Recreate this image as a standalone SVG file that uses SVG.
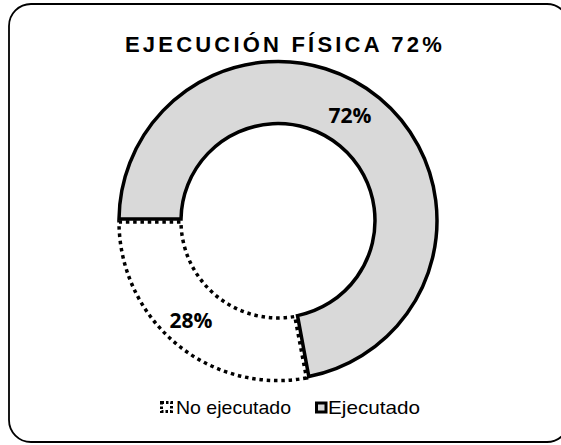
<svg xmlns="http://www.w3.org/2000/svg" width="561" height="445" viewBox="0 0 561 445">
  <style>
    .frame { fill: #ffffff; stroke: #000000; stroke-width: 1.8; }
    .exec { fill: #d9d9d9; stroke: #000000; stroke-width: 3.5; stroke-linejoin: miter; }
    .noexec { fill: #ffffff; stroke: #000000; stroke-width: 3.5; stroke-dasharray: 3.5 3.8; }
    .title { font-family: "Liberation Sans", Arial, sans-serif; font-weight: bold; font-size: 22px; fill: #000000; letter-spacing: 3.2px; }
    .pct { font-family: "Open Sans", "Liberation Sans", sans-serif; font-weight: bold; font-size: 21px; fill: #000000; text-anchor: middle; }
    .legend { font-family: "Liberation Sans", Arial, sans-serif; font-size: 19px; fill: #000000; }
  </style>
  <rect class="frame" x="9" y="4" width="560" height="438" rx="22" ry="22"/>
  <g id="title">
    <text class="title" x="125" y="52">EJECUCIÓN FÍSICA 72%</text>
  </g>
  <g id="segment-no-ejecutado">
    <path class="noexec" d="M 306.5,378 A 159,159 0 0 1 119,222 L 181,222 A 97,97 0 0 0 294.8,316.5 Z"/>
    <text class="pct" x="191" y="328">28%</text>
  </g>
  <g id="segment-ejecutado">
    <path class="exec" d="M 119,219 A 159,159 0 1 1 308.8,376.5 L 297.5,315.6 A 97,97 0 1 0 181,219 Z"/>
    <text class="pct" x="350" y="123">72%</text>
  </g>
  <g id="legend">
    <g id="legend-no-ejecutado">
      <rect x="161.5" y="402.5" width="10" height="9" fill="#ffffff" stroke="#000000" stroke-width="3" stroke-dasharray="2.5 2"/>
      <text class="legend" x="176" y="413.5" textLength="115" lengthAdjust="spacingAndGlyphs">No ejecutado</text>
    </g>
    <g id="legend-ejecutado">
      <rect x="316.5" y="403" width="9.5" height="9" fill="#d9d9d9" stroke="#000000" stroke-width="3"/>
      <text class="legend" x="328" y="413.5" textLength="92" lengthAdjust="spacingAndGlyphs">Ejecutado</text>
    </g>
  </g>
</svg>
